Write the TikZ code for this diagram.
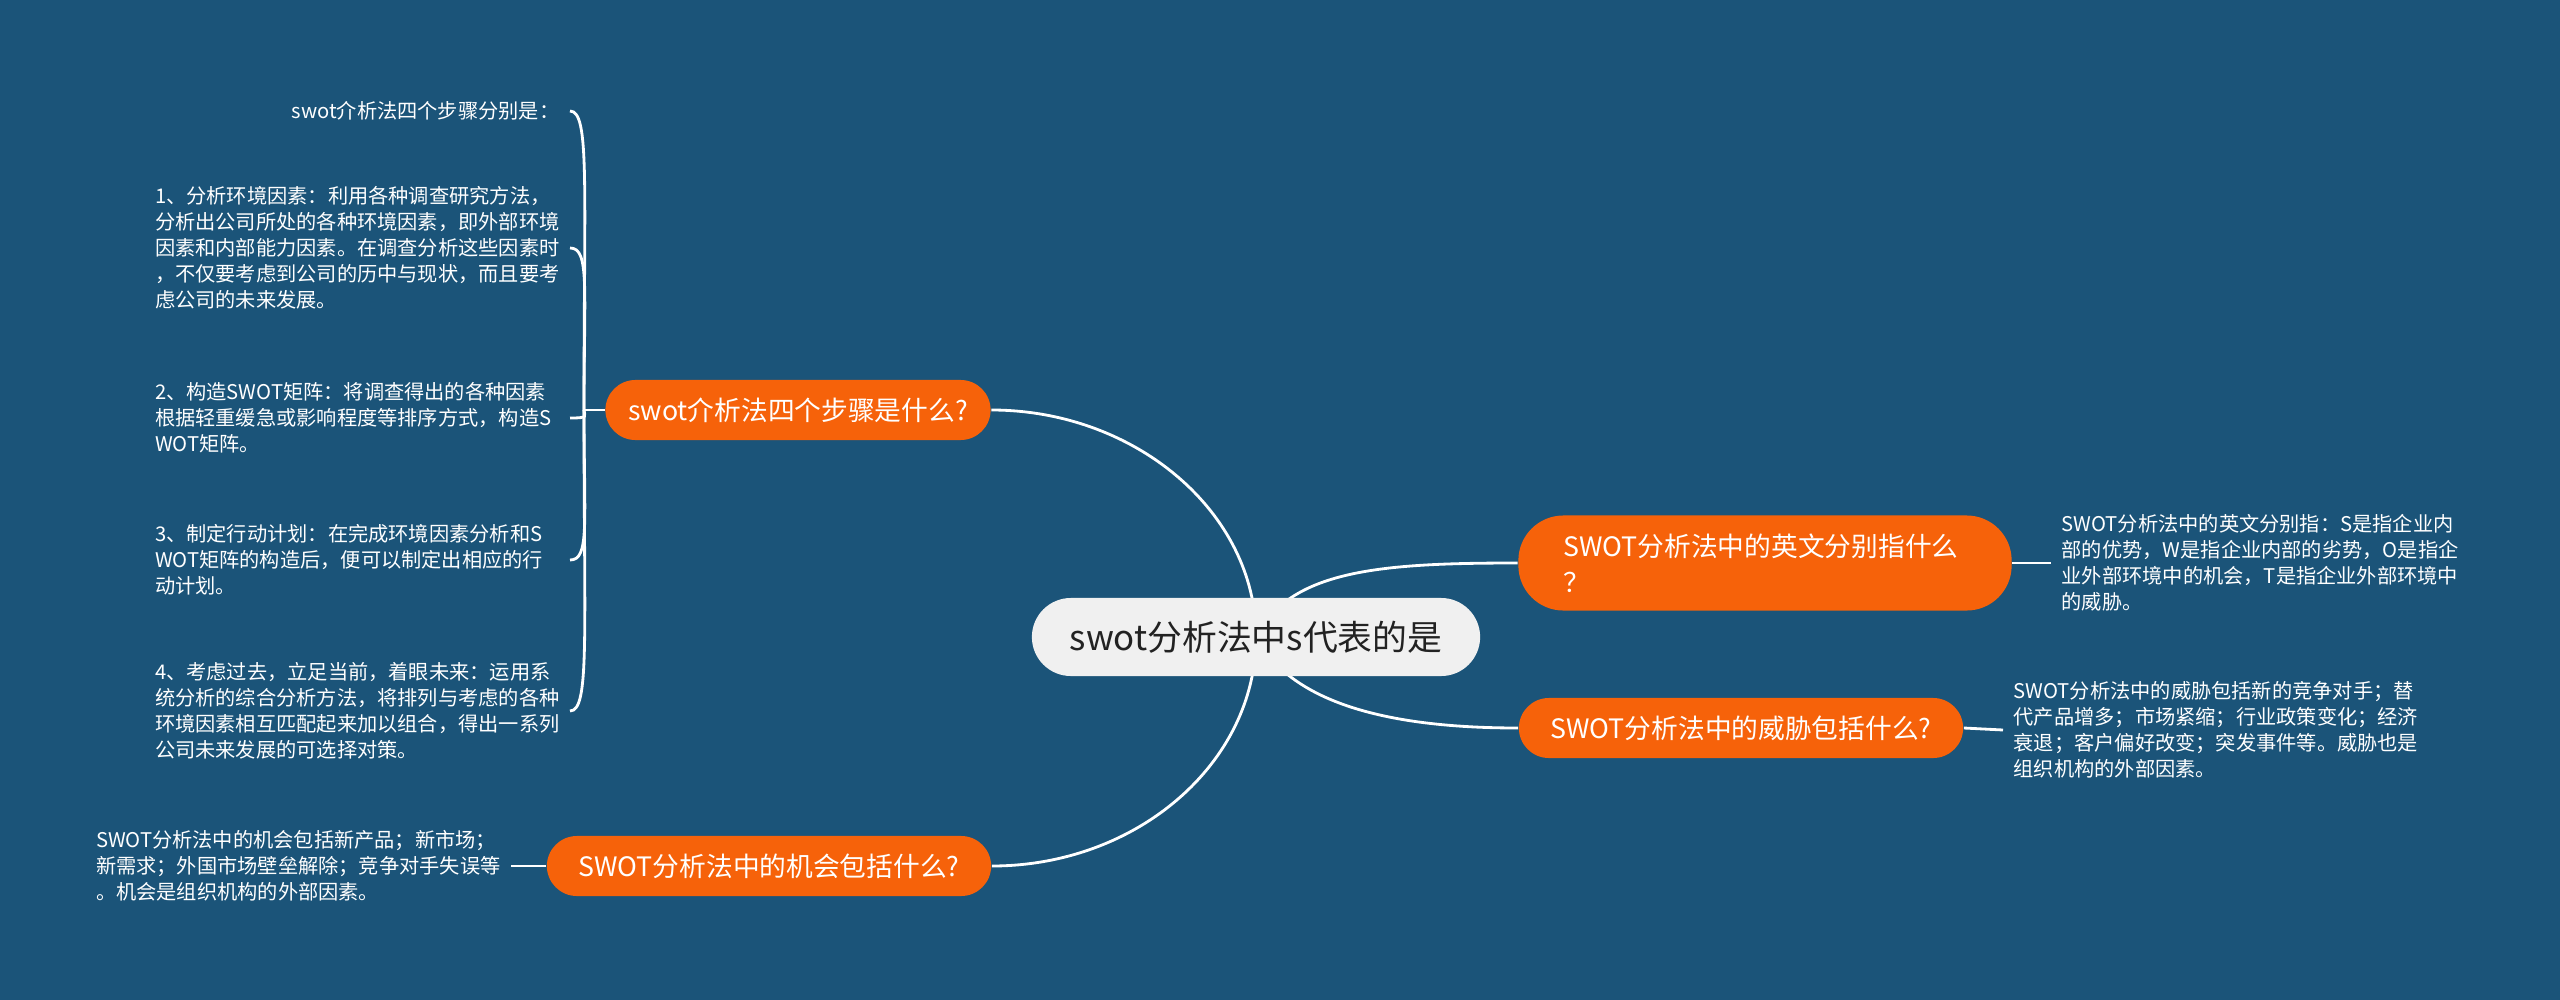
\documentclass[tikz,border=0pt]{standalone}
\usepackage{fontspec}
\setmainfont{Noto Sans CJK SC}

\pgfdeclarelayer{bg}
\pgfdeclarelayer{lines}
\pgfsetlayers{bg,lines,main}

\definecolor{bgblue}{RGB}{27,84,121}
\definecolor{topicorange}{RGB}{246,98,10}
\definecolor{rootgray}{RGB}{240,240,240}
\definecolor{roottext}{RGB}{34,34,34}

\begin{document}
\begin{tikzpicture}[x=0.01cm, y=-0.01cm,
  root/.style={fill=rootgray, text=roottext, rounded corners=0.39cm,
    minimum width=4.48cm, minimum height=0.78cm,
    font=\fontsize{9.9}{12}\selectfont},
  topic/.style={fill=topicorange, text=white, rounded corners=0.3cm,
    minimum height=0.6cm, font=\fontsize{7.6}{10.2}\selectfont},
  leaf/.style={text=white, text width=4.04cm, align=left,
    inner xsep=0.1cm, inner ysep=0.05cm, font=\fontsize{5.75}{7.4}\selectfont},
  link/.style={white, line width=0.8pt}]

% Canvas
\useasboundingbox (0,0) rectangle (2560,1000);
\begin{pgfonlayer}{bg}
  \fill[bgblue] (0,0) rectangle (2560,1000);
\end{pgfonlayer}

% Centre and main topics
\node[root] (root) at (1256,637) {swot分析法中s代表的是};
\node[topic, minimum width=3.85cm] (steps) at (798,410) {swot介析法四个步骤是什么?};
\node[topic, minimum width=4.44cm] (chance) at (769,866) {SWOT分析法中的机会包括什么?};
\node[topic, text width=4.03cm, align=left, inner xsep=0.45cm,
  minimum height=0.95cm, rounded corners=0.45cm] (meaning) at (1765,563)
  {SWOT分析法中的英文分别指什么\\？};
\node[topic, minimum width=4.44cm] (threat) at (1741,728) {SWOT分析法中的威胁包括什么?};

% Four steps (left, upper)
\node[leaf, anchor=east, align=right] (s0) at (570,111) {swot介析法四个步骤分别是：};
\node[leaf, anchor=east] (s1) at (570,248)
  {1、分析环境因素：利用各种调查研究方法，\\分析出公司所处的各种环境因素，即外部环境\\因素和内部能力因素。在调查分析这些因素时\\，不仅要考虑到公司的历中与现状，而且要考\\虑公司的未来发展。};
\node[leaf, anchor=east] (s2) at (570,418)
  {2、构造SWOT矩阵：将调查得出的各种因素\\根据轻重缓急或影响程度等排序方式，构造S\\WOT矩阵。};
\node[leaf, anchor=east] (s3) at (570,560)
  {3、制定行动计划：在完成环境因素分析和S\\WOT矩阵的构造后，便可以制定出相应的行\\动计划。};
\node[leaf, anchor=east] (s4) at (570,711)
  {4、考虑过去，立足当前，着眼未来：运用系\\统分析的综合分析方法，将排列与考虑的各种\\环境因素相互匹配起来加以组合，得出一系列\\公司未来发展的可选择对策。};

% Other details
\node[leaf, anchor=east] (c1) at (511,866)
  {SWOT分析法中的机会包括新产品；新市场；\\新需求；外国市场壁垒解除；竞争对手失误等\\。机会是组织机构的外部因素。};
\node[leaf, anchor=west] (m1) at (2051,563)
  {SWOT分析法中的英文分别指：S是指企业内\\部的优势，W是指企业内部的劣势，O是指企\\业外部环境中的机会，T是指企业外部环境中\\的威胁。};
\node[leaf, anchor=west] (t1) at (2003,730)
  {SWOT分析法中的威胁包括新的竞争对手；替\\代产品增多；市场紧缩；行业政策变化；经济\\衰退；客户偏好改变；突发事件等。威胁也是\\组织机构的外部因素。};

\begin{pgfonlayer}{lines}
  % Centre to topics
  \draw[link] (root.center) .. controls (1256,512) and (1135,410) .. (steps.east);
  \draw[link] (root.center) .. controls (1256,763) and (1137,866) .. (chance.east);
  \draw[link] (root.center) .. controls (1290,570) and (1380,563) .. (meaning.west);
  \draw[link] (root.center) .. controls (1290,700) and (1380,728) .. (threat.west);

  % Bracket of the four steps
  \coordinate (fork) at (584,410);
  \draw[link] (steps.west) -- (fork);
  \foreach \n/\d in {s0/-299,s1/-162,s2/8,s3/150,s4/301}
    \draw[link] (fork) .. controls +(0,{0.75*\d}) and +(20,0) .. (\n.east);

  % Short ticks
  \draw[link] (chance.west) -- (c1.east);
  \draw[link] (meaning.east) -- (m1.west);
  \draw[link] (threat.east) -- (t1.west);
\end{pgfonlayer}

\end{tikzpicture}
\end{document}
